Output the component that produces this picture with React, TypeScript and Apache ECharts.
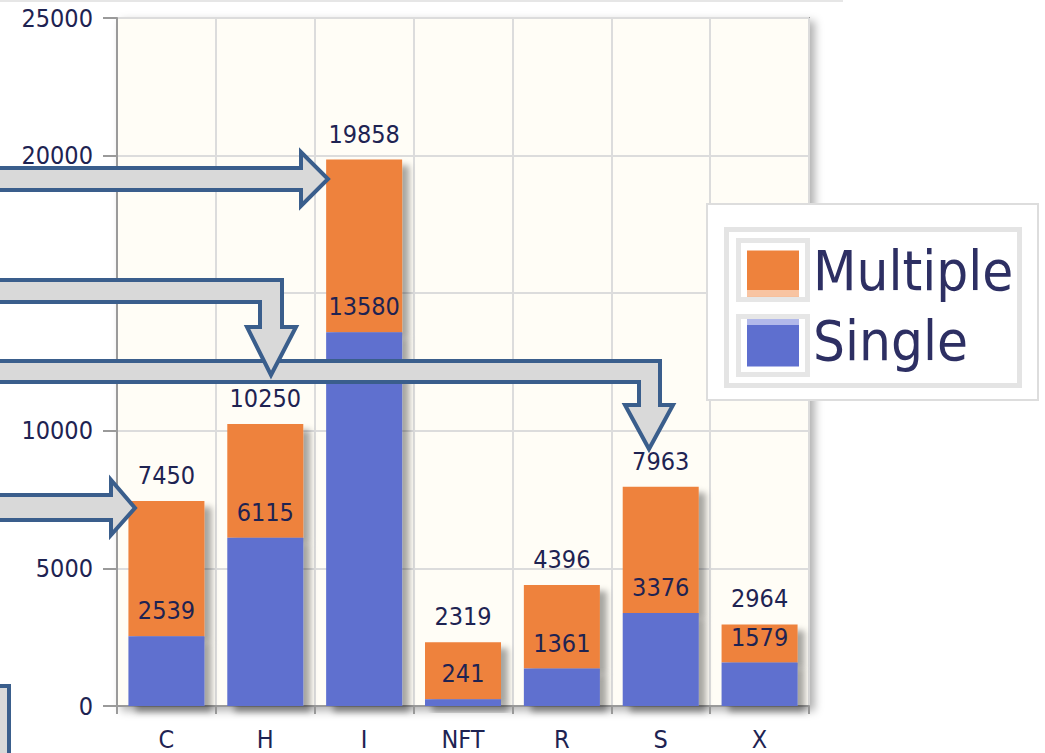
import React, { useEffect, useRef } from "react";
import * as echarts from "echarts";

const categories = ["C", "H", "I", "NFT", "R", "S", "X"];
const singleValues = [2539, 6115, 13580, 241, 1361, 3376, 1579];
const totalValues = [7450, 10250, 19858, 2319, 4396, 7963, 2964];
const multipleValues = totalValues.map((t, i) => t - singleValues[i]);
const yMin = 0;
const yMax = 25000;
const yInterval = 5000;

const FONT = "'DejaVu Sans Condensed', 'DejaVu Sans', sans-serif";
const LABEL_COLOR = "#1e2352";
const ORANGE = "#EE823C";
const BLUE = "#5E6FCF";
const ARROW_FILL = "#d9d9d9";
const ARROW_STROKE = "#3a5e8c";

const barShadow = {
  shadowColor: "rgba(0,0,0,0.35)",
  shadowBlur: 6,
  shadowOffsetX: 7,
  shadowOffsetY: 6,
};

function arrow(points: number[][], z: number) {
  return {
    type: "polygon",
    z,
    shape: { points },
    style: { fill: ARROW_FILL, stroke: ARROW_STROKE, lineWidth: 4, lineJoin: "miter" },
  };
}

export default function App() {
  const ref = useRef<HTMLDivElement>(null);
  useEffect(() => {
    if (!ref.current) return;
    const chart = echarts.init(ref.current, undefined, { renderer: "svg" });
    const option: any = {
      animation: false,
      backgroundColor: "#ffffff",
      grid: {
        left: 117,
        right: 236,
        top: 18,
        bottom: 47,
        show: true,
        backgroundColor: "#FFFDF6",
        borderColor: "#9a9a9a",
        borderWidth: 2,
        shadowColor: "rgba(0,0,0,0.3)",
        shadowBlur: 8,
        shadowOffsetX: 5,
        shadowOffsetY: 4,
        outerBoundsMode: "none",
      },
      legend: {
        orient: "vertical",
        left: 747,
        top: 242.5,
        padding: 0,
        itemWidth: 52,
        itemHeight: 46,
        itemGap: 8,
        icon: "rect",
        z: 4,
        data: ["Multiple", "Single"],
        itemStyle: { shadowBlur: 0, shadowOffsetX: 0, shadowOffsetY: 0, shadowColor: "transparent" },
        formatter: (name: string) => "{t|" + name + "}",
        textStyle: {
          fontFamily: FONT,
          fontSize: 56,
          color: "#2d2f63",
          rich: {
            t: {
              fontFamily: FONT,
              fontSize: 56,
              lineHeight: 46,
              color: "#2d2f63",
              padding: [0, 0, 6, 9],
            },
          },
        },
      },
      xAxis: {
        type: "category",
        data: categories,
        axisLine: { show: true, lineStyle: { color: "#9a9a9a", width: 2 } },
        axisTick: { show: true, length: 8, lineStyle: { color: "#9a9a9a", width: 2 } },
        splitLine: { show: true, interval: 0, lineStyle: { color: "#dcdcdc", width: 2 } },
        axisLabel: { margin: 23, lineHeight: 20, fontFamily: FONT, fontSize: 25, color: LABEL_COLOR },
      },
      yAxis: {
        type: "value",
        min: yMin,
        max: yMax,
        interval: yInterval,
        axisLine: { show: true, lineStyle: { color: "#9a9a9a", width: 2 } },
        axisTick: { show: true, length: 14, lineStyle: { color: "#9a9a9a", width: 2 } },
        splitLine: { show: true, lineStyle: { color: "#dcdcdc", width: 2 } },
        axisLabel: {
          margin: 24,
          fontFamily: FONT,
          fontSize: 25,
          color: LABEL_COLOR,
          formatter: (v: number) => String(v),
        },
      },
      series: [
        {
          name: "Single",
          type: "bar",
          stack: "total",
          data: singleValues,
          barWidth: 76,
          z: 3,
          itemStyle: { color: BLUE, ...barShadow },
          label: {
            show: true,
            position: "top",
            distance: 13,
            fontFamily: FONT,
            fontSize: 25,
            color: LABEL_COLOR,
          },
        },
        {
          name: "Multiple",
          type: "bar",
          stack: "total",
          data: multipleValues,
          barWidth: 76,
          z: 2,
          itemStyle: { color: ORANGE, ...barShadow },
          label: {
            show: true,
            position: "top",
            distance: 13,
            fontFamily: FONT,
            fontSize: 25,
            color: LABEL_COLOR,
            formatter: (p: any) => String(totalValues[p.dataIndex]),
          },
        },
      ],
      graphic: [
        {
          type: "line",
          z: 1,
          shape: { x1: 0, y1: 1, x2: 843, y2: 1 },
          style: { stroke: "#e6e6e6", lineWidth: 2 },
        },
        {
          type: "rect",
          z: 3,
          shape: { x: 707, y: 204, width: 331, height: 196 },
          style: { fill: "#ffffff", stroke: "#dddddd", lineWidth: 2 },
        },
        {
          type: "rect",
          z: 3,
          shape: { x: 726.5, y: 229.5, width: 293, height: 156 },
          style: { fill: "#ffffff", stroke: "#e4e4e4", lineWidth: 5 },
        },
        {
          type: "rect",
          z: 3,
          shape: { x: 738.5, y: 240.5, width: 69, height: 59 },
          style: { fill: "#ffffff", stroke: "#e6e6e6", lineWidth: 5 },
        },
        {
          type: "rect",
          z: 3,
          shape: { x: 738.5, y: 316.5, width: 69, height: 58 },
          style: { fill: "#ffffff", stroke: "#e6e6e6", lineWidth: 5 },
        },
        {
          type: "rect",
          z: 5,
          shape: { x: 747, y: 290, width: 52, height: 6 },
          style: { fill: "#f8c4a2" },
        },
        {
          type: "rect",
          z: 5,
          shape: { x: 747, y: 319, width: 52, height: 6 },
          style: { fill: "#b2b9ea" },
        },
        {
          type: "rect",
          z: 10,
          shape: { x: -10, y: 686, width: 19, height: 90 },
          style: { fill: ARROW_FILL, stroke: ARROW_STROKE, lineWidth: 4 },
        },
        arrow(
          [[-10, 361], [660, 361], [660, 405], [673, 405], [649, 449], [625, 405], [639, 405], [639, 382], [-10, 382]],
          10
        ),
        arrow(
          [[-10, 280], [282, 280], [282, 327], [296, 327], [271, 375], [247, 327], [260, 327], [260, 302], [-10, 302]],
          11
        ),
        arrow(
          [[-10, 168], [301, 168], [301, 152], [328, 179], [301, 206], [301, 190], [-10, 190]],
          11
        ),
        arrow(
          [[-10, 495], [111, 495], [111, 480], [135, 508], [111, 535], [111, 520], [-10, 520]],
          11
        ),
      ],
    };
    chart.setOption(option);
    return () => chart.dispose();
  }, []);
  return (
    <div
      ref={ref}
      style={{ position: "fixed", left: 0, top: 0, width: 1045, height: 753, background: "#fff" }}
    />
  );
}
